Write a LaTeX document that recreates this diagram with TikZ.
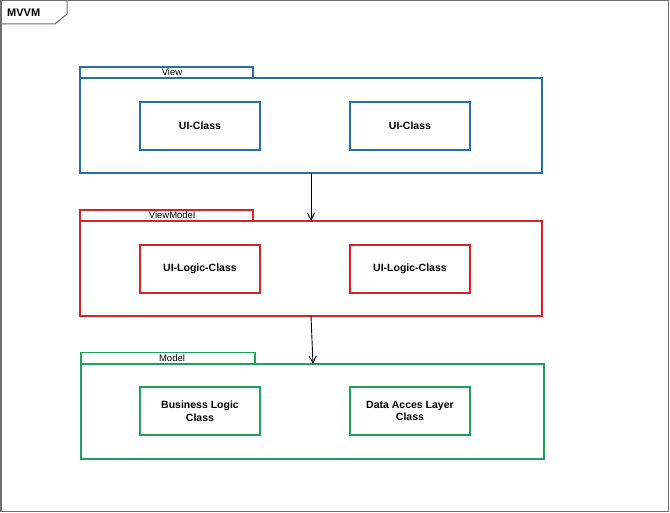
\documentclass[tikz,border=0pt]{standalone}
\usepackage{fontspec}
\setmainfont{Liberation Sans}
\usetikzlibrary{arrows.meta}
\definecolor{pblue}{RGB}{40,110,170}
\definecolor{pred}{RGB}{215,35,40}
\definecolor{pgreen}{RGB}{30,160,95}
\definecolor{fgray}{RGB}{110,110,110}
\tikzset{
  pkg/.style={draw=#1, line width=1.1pt},
  cls/.style={draw=#1, line width=1.1pt, minimum width=120pt, minimum height=48pt, inner sep=0pt, align=center,
    font=\fontsize{10.5}{12.5}\selectfont\bfseries},
  tablbl/.style={font=\fontsize{9.5}{11}\selectfont, inner sep=0pt},
  dep/.style={-{Straight Barb[length=7pt,width=7pt]}, line width=0.9pt, black}
}
\begin{document}
\begin{tikzpicture}[x=1pt,y=-1pt]
\useasboundingbox (0,0) rectangle (670,513);
% outer frame
\draw[fgray, line width=1.5pt] (0.75,0.75) rectangle (668.5,511.5);
\draw[fgray, line width=1pt] (0.75,24) -- (55,24) -- (67,14) -- (67,0.75);
\node[font=\fontsize{11}{13}\selectfont\bfseries, anchor=west, inner sep=0pt] (title) at (7,13) {MVVM};
% View package
\draw[pkg=pblue] (80,78) -- (80,67) -- (253,67) -- (253,78);
\draw[pkg=pblue] (80,78) rectangle (542,173);
\coordinate (viewbot) at (311,173);
\node[tablbl] (viewlbl) at (172,72.5) {View};
\node[cls=pblue] (ui1) at (200,126) {UI-Class};
\node[cls=pblue] (ui2) at (410,126) {UI-Class};
% ViewModel package
\draw[pkg=pred] (80,221) -- (80,210) -- (253,210) -- (253,221);
\draw[pkg=pred] (80,221) rectangle (542,316);
\coordinate (vmtop) at (311,221);
\coordinate (vmbot) at (311,316);
\node[tablbl] (vmlbl) at (172,215.5) {ViewModel};
\node[cls=pred] (ul1) at (200,269) {UI-Logic-Class};
\node[cls=pred] (ul2) at (410,269) {UI-Logic-Class};
% Model package
\draw[pkg=pgreen] (81,364) -- (81,352.5) -- (255,352.5) -- (255,364);
\draw[pkg=pgreen] (81,364) rectangle (544,459);
\coordinate (mtop) at (313,364);
\node[tablbl] (mlbl) at (172,358) {Model};
\node[cls=pgreen] (bl) at (200,411) {Business Logic\\Class};
\node[cls=pgreen] (dal) at (410,411) {Data Acces Layer\\Class};
% dependencies
\draw[dep] (viewbot) -- (vmtop);
\draw[dep] (vmbot) -- (mtop);
\end{tikzpicture}
\end{document}
